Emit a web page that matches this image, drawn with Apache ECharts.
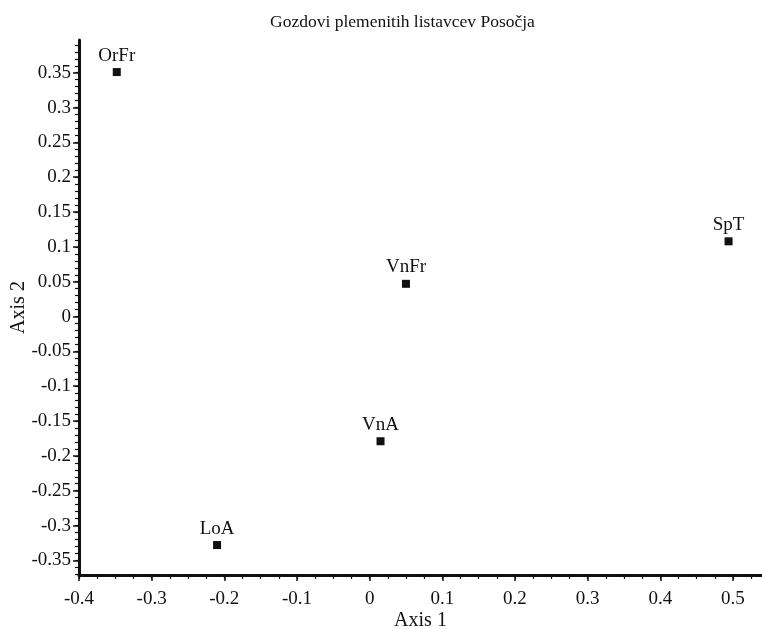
<!DOCTYPE html>
<html>
<head>
<meta charset="utf-8">
<script src="https://cdn.jsdelivr.net/npm/echarts@6/dist/echarts.min.js"></script>
<style>html,body{margin:0;padding:0;background:#fff;}#c{width:762px;height:629px;}</style>
</head>
<body>
<div id="c"></div>
<script>
const pointNames = ['OrFr', 'SpT', 'VnFr', 'VnA', 'LoA'];
const axis1Values = [-0.348, 0.494, 0.050, 0.015, -0.210];
const axis2Values = [0.351, 0.108, 0.047, -0.179, -0.328];
const xTickLabels = [-0.4, -0.3, -0.2, -0.1, 0, 0.1, 0.2, 0.3, 0.4, 0.5];
const yTickLabels = [-0.35, -0.3, -0.25, -0.2, -0.15, -0.1, -0.05, 0, 0.05, 0.1, 0.15, 0.2, 0.25, 0.3, 0.35];
const xMinorTicks = [];
for (let i = 0; i <= 37; i++) xMinorTicks.push(Math.round((-0.4 + i * 0.025) * 1000) / 1000);
const yMinorTicks = [];
for (let i = -37; i <= 39; i++) yMinorTicks.push(Math.round(i * 0.01 * 1000) / 1000);

const FONT = 'Liberation Serif';
const TXT = '#111';
const xRange = [-0.4, 0.54];
const yRange = [-0.371, 0.397];

const chart = echarts.init(document.getElementById('c'));
chart.setOption({
  animation: false,
  backgroundColor: '#fff',
  title: {
    text: 'Gozdovi plemenitih listavcev Posočja',
    left: 265, top: 8,
    textStyle: { fontFamily: FONT, fontSize: 17.5, fontWeight: 'normal', color: TXT }
  },
  grid: { left: 79, right: 0, top: 40, bottom: 54, containLabel: false, outerBoundsMode: 'none' },
  xAxis: [{
    type: 'value', min: xRange[0], max: xRange[1],
    name: 'Axis 1', nameLocation: 'middle', nameGap: 36, nameMoveOverlap: false,
    nameTextStyle: { fontFamily: FONT, fontSize: 20, color: TXT },
    axisLine: { show: true, onZero: false, lineStyle: { color: '#111', width: 3 } },
    axisTick: { show: true, length: 6, lineStyle: { color: '#111', width: 1.5 }, customValues: xTickLabels },
    axisLabel: { fontFamily: FONT, fontSize: 19, color: TXT, margin: 15, customValues: xTickLabels },
    splitLine: { show: false }
  }, {
    type: 'value', min: xRange[0], max: xRange[1], position: 'bottom',
    axisLine: { show: false, onZero: false },
    axisTick: { show: true, length: 4, lineStyle: { color: '#111', width: 1.2 }, customValues: xMinorTicks },
    axisLabel: { show: false },
    splitLine: { show: false }
  }],
  yAxis: [{
    type: 'value', min: yRange[0], max: yRange[1],
    name: 'Axis 2', nameLocation: 'middle', nameGap: 50, nameMoveOverlap: false,
    nameTextStyle: { fontFamily: FONT, fontSize: 20, color: TXT },
    axisLine: { show: true, onZero: false, lineStyle: { color: '#111', width: 3 } },
    axisTick: { show: true, length: 6, lineStyle: { color: '#111', width: 1.5 }, customValues: yTickLabels },
    axisLabel: { fontFamily: FONT, fontSize: 19, color: TXT, margin: 8, customValues: yTickLabels },
    splitLine: { show: false }
  }, {
    type: 'value', min: yRange[0], max: yRange[1], position: 'left',
    axisLine: { show: false, onZero: false },
    axisTick: { show: true, length: 4, lineStyle: { color: '#111', width: 1.2 }, customValues: yMinorTicks },
    axisLabel: { show: false },
    splitLine: { show: false }
  }],
  series: [{
    type: 'scatter',
    xAxisIndex: 0, yAxisIndex: 0,
    symbol: 'rect', symbolSize: 8,
    itemStyle: { color: '#111', opacity: 1 },
    data: pointNames.map((n, i) => ({ name: n, value: [axis1Values[i], axis2Values[i]] })),
    label: {
      show: true, position: 'top', distance: 3,
      formatter: p => p.name,
      fontFamily: FONT, fontSize: 19, color: TXT
    }
  }]
});
</script>
</body>
</html>
